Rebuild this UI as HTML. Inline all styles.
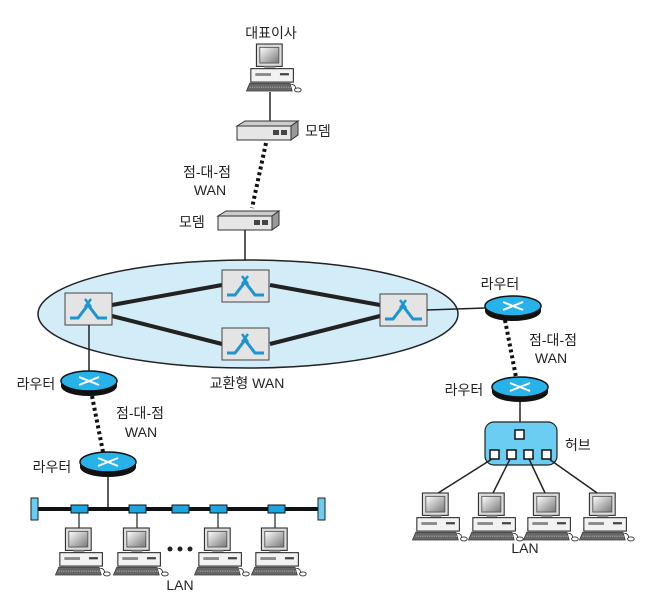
<!DOCTYPE html>
<html><head><meta charset="utf-8"><style>
html,body{margin:0;padding:0;background:#fff}
svg{display:block}
text{font-family:"Liberation Sans","Noto Sans CJK KR",sans-serif;font-size:14px;fill:#222}
</style></head><body>
<svg width="649" height="600" viewBox="0 0 649 600" xmlns="http://www.w3.org/2000/svg">
<defs>
<linearGradient id="scr" x1="0" y1="0" x2="1" y2="1"><stop offset="0" stop-color="#fff"/><stop offset="1" stop-color="#777"/></linearGradient>
<g id="pc0">
<rect x="-13" y="0" width="23" height="20" fill="#ddd" stroke="#333" stroke-width="1"/>
<rect x="-10" y="3" width="17" height="14" fill="url(#scr)" stroke="#555" stroke-width="0.8"/>
<rect x="-6" y="20" width="10" height="2" fill="#999"/>
<rect x="-18" y="22" width="38" height="12" fill="#f2f2f2" stroke="#333" stroke-width="1"/>
<rect x="-14" y="26" width="14" height="2.5" fill="#888"/>
<rect x="8" y="26" width="8" height="2" fill="#444"/>
<polygon points="-19,35 17,35 19,42 -22,42" fill="#666" stroke="#333" stroke-width="0.6"/>
<path d="M-19,38.5 H18" stroke="#ccc" stroke-width="0.6" stroke-dasharray="1 1"/>
<path d="M18,36 Q22,36 22,40" stroke="#333" fill="none" stroke-width="0.8"/>
<ellipse cx="24" cy="41" rx="3" ry="1.8" fill="#fff" stroke="#333" stroke-width="0.8"/>
</g>
<g id="pc"><use href="#pc0" transform="scale(1.12)"/></g>
<g id="sw">
<rect x="0" y="0" width="47" height="32" fill="#e4e4e4" stroke="#444" stroke-width="1"/>
<path d="M5,25 H13 L23,12 L33,25 H42" fill="none" stroke="#1b95d3" stroke-width="3"/>
<path d="M20,6 L26,14 M26,6 L20,14" stroke="#1b95d3" stroke-width="2.5"/>
</g>
<g id="rt">
<path d="M-28,0 V5 A28,10 0 0 0 28,5 V0 Z" fill="#111"/>
<ellipse cx="0" cy="0" rx="28" ry="10" fill="#27b2ea" stroke="#111" stroke-width="1.5"/>
<path d="M-10,-4 L10,4 M-10,4 L10,-4" stroke="#fff" stroke-width="2"/>
</g>
<g id="md">
<polygon points="0,5 8,0 61,0 54,5" fill="#ccc" stroke="#333" stroke-width="1"/>
<polygon points="54,5 61,0 61,14 54,19" fill="#999" stroke="#333" stroke-width="1"/>
<rect x="0" y="5" width="54" height="14" fill="#e6e6e6" stroke="#333" stroke-width="1"/>
<rect x="36" y="9" width="6" height="5" fill="#444"/><rect x="44" y="9" width="6" height="5" fill="#444"/>
</g>
</defs>

<text x="271" y="38" text-anchor="middle">대표이사</text>
<use href="#pc" x="271" y="44"/>
<line x1="270" y1="92" x2="270" y2="121" stroke="#222" stroke-width="1.5"/>
<use href="#md" x="237" y="121"/>
<text x="305" y="136">모뎀</text>
<line x1="266" y1="143" x2="252" y2="208" stroke="#111" stroke-width="4" stroke-dasharray="3 3"/>
<text x="207" y="177" text-anchor="middle">점-대-점</text>
<text x="210" y="195" text-anchor="middle">WAN</text>
<use href="#md" x="218" y="211"/>
<text x="179" y="227">모뎀</text>
<line x1="245" y1="230" x2="245" y2="270" stroke="#222" stroke-width="1.5"/>

<ellipse cx="248" cy="314" rx="210" ry="54" fill="#d3edf8" stroke="#222" stroke-width="1.5"/>
<g stroke="#222" stroke-width="4">
<line x1="112" y1="305" x2="222" y2="285"/>
<line x1="112" y1="316" x2="222" y2="344"/>
<line x1="270" y1="285" x2="380" y2="305"/>
<line x1="270" y1="344" x2="380" y2="316"/>
</g>
<use href="#sw" x="65" y="293"/>
<use href="#sw" x="222" y="270"/>
<use href="#sw" x="222" y="328"/>
<use href="#sw" x="380" y="294"/>
<text x="247" y="388" text-anchor="middle">교환형 WAN</text>

<line x1="427" y1="310" x2="485" y2="308" stroke="#222" stroke-width="1.5"/>
<text x="500" y="289" text-anchor="middle">라우터</text>
<use href="#rt" x="513" y="306"/>
<line x1="505" y1="320" x2="516" y2="377" stroke="#111" stroke-width="4" stroke-dasharray="3 3"/>
<text x="553" y="345" text-anchor="middle">점-대-점</text>
<text x="551" y="363" text-anchor="middle">WAN</text>
<text x="464" y="395" text-anchor="middle">라우터</text>
<use href="#rt" x="520" y="387"/>
<line x1="520" y1="402" x2="520" y2="423" stroke="#222" stroke-width="1.5"/>
<rect x="485" y="422" width="72" height="43" rx="9" fill="#6ccdf3" stroke="#222" stroke-width="1.2"/>
<g fill="#fff" stroke="#111" stroke-width="1.5">
<rect x="515" y="430" width="9" height="9"/>
<rect x="490" y="450" width="9" height="9"/>
<rect x="507" y="450" width="9" height="9"/>
<rect x="524" y="450" width="9" height="9"/>
<rect x="542" y="450" width="9" height="9"/>
</g>
<text x="565" y="450">허브</text>
<g stroke="#222" stroke-width="1.5">
<line x1="492" y1="459" x2="435" y2="495"/>
<line x1="510" y1="459" x2="492" y2="495"/>
<line x1="529" y1="459" x2="546" y2="495"/>
<line x1="549" y1="459" x2="600" y2="495"/>
</g>
<use href="#pc" x="437" y="493"/>
<use href="#pc" x="493" y="493"/>
<use href="#pc" x="548" y="493"/>
<use href="#pc" x="604" y="493"/>
<text x="525" y="553" text-anchor="middle">LAN</text>

<line x1="89" y1="325" x2="89" y2="376" stroke="#222" stroke-width="1.5"/>
<text x="36" y="389" text-anchor="middle">라우터</text>
<use href="#rt" x="89" y="381"/>
<line x1="92" y1="396" x2="103" y2="452" stroke="#111" stroke-width="4" stroke-dasharray="3 3"/>
<text x="140" y="418" text-anchor="middle">점-대-점</text>
<text x="141" y="437" text-anchor="middle">WAN</text>
<text x="52" y="472" text-anchor="middle">라우터</text>
<use href="#rt" x="108" y="462"/>
<line x1="108" y1="476" x2="108" y2="509" stroke="#222" stroke-width="1.5"/>
<line x1="36" y1="509" x2="320" y2="509" stroke="#111" stroke-width="4"/>
<rect x="31" y="498" width="7" height="22" fill="#6ccdf3" stroke="#222"/>
<rect x="318" y="498" width="7" height="22" fill="#6ccdf3" stroke="#222"/>
<g stroke="#222" stroke-width="1.2">
<line x1="79" y1="509" x2="79" y2="528"/>
<line x1="137" y1="509" x2="137" y2="528"/>
<line x1="218" y1="509" x2="218" y2="528"/>
<line x1="275" y1="509" x2="275" y2="528"/>
</g>
<g fill="#1ba7e3" stroke="#111" stroke-width="1">
<rect x="71" y="505" width="17" height="8"/>
<rect x="129" y="505" width="17" height="8"/>
<rect x="172" y="505" width="17" height="8"/>
<rect x="210" y="505" width="17" height="8"/>
<rect x="268" y="505" width="17" height="8"/>
</g>
<use href="#pc" x="80" y="528"/>
<use href="#pc" x="138" y="528"/>
<use href="#pc" x="219" y="528"/>
<use href="#pc" x="276" y="528"/>
<circle cx="170" cy="549" r="2.5" fill="#222"/>
<circle cx="180" cy="549" r="2.5" fill="#222"/>
<circle cx="190" cy="549" r="2.5" fill="#222"/>
<text x="180" y="590" text-anchor="middle">LAN</text>
</svg>
</body></html>
